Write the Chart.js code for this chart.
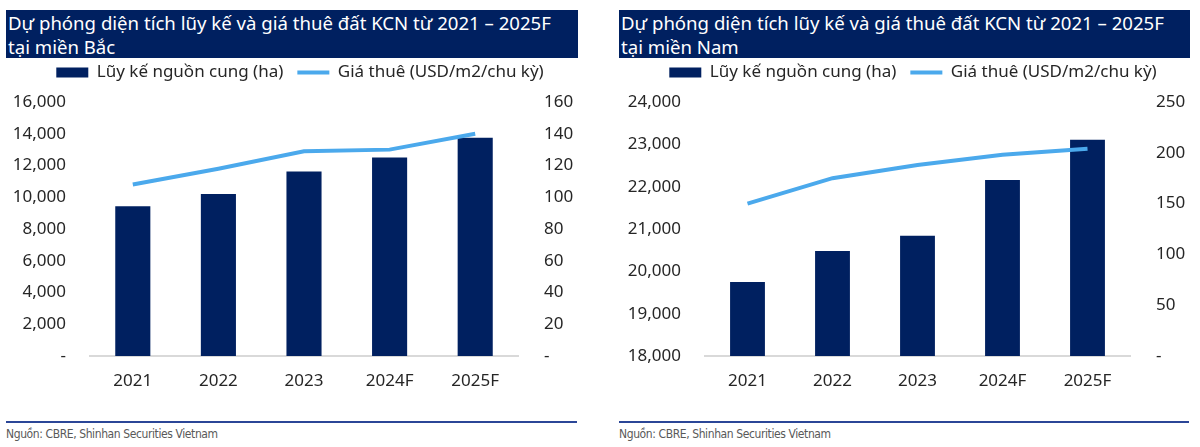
<!DOCTYPE html>
<html>
<head>
<meta charset="utf-8">
<script src="https://cdn.jsdelivr.net/npm/chart.js@4.4.0/dist/chart.umd.min.js"></script>
<style>
body{margin:0;width:1200px;height:447px;background:#fff;position:relative;overflow:hidden;font-family:"Noto Sans",sans-serif}
.panel{position:absolute;top:0;width:600px;height:447px}
.title{position:absolute;top:10px;height:48px;background:#002060;color:#fff;font-size:18.6px;line-height:23.5px;padding:1px 0 0 2px;box-sizing:border-box;white-space:nowrap}
.chartbox{position:absolute;top:50px;left:0}
.rule{position:absolute;top:421px;height:2px;background:#2b4697}
.src{position:absolute;top:427px;font-size:12px;letter-spacing:-0.4px;color:#595959;font-family:"Liberation Sans Narrow","DejaVu Sans Condensed",sans-serif;white-space:nowrap}
</style>
</head>
<body>
<div class="panel" style="left:0">
  <div class="title" style="left:6px;width:572px">Dự phóng diện tích lũy kế và giá thuê đất KCN từ 2021 – 2025F<br>tại miền Bắc</div>
  <div class="chartbox"><canvas id="north" width="600" height="360"></canvas></div>
  <div class="rule" style="left:6px;width:571px"></div>
  <div class="src" style="left:6px">Nguồn: CBRE, Shinhan Securities Vietnam</div>
</div>
<div class="panel" style="left:600px">
  <div class="title" style="left:19px;width:571px">Dự phóng diện tích lũy kế và giá thuê đất KCN từ 2021 – 2025F<br>tại miền Nam</div>
  <div class="chartbox"><canvas id="south" width="600" height="360"></canvas></div>
  <div class="rule" style="left:19px;width:570px"></div>
  <div class="src" style="left:19px">Nguồn: CBRE, Shinhan Securities Vietnam</div>
</div>
<script>
// --- data
const years = ['2021', '2022', '2023', '2024F', '2025F'];
const northSupply = [9430, 10200, 11620, 12500, 13750];
const northRent = [108, 118, 129, 130, 140];
const southSupply = [19750, 20480, 20840, 22160, 23110];
const southRent = [150, 175, 188, 198, 204];
const supplyLabel = 'Lũy kế nguồn cung (ha)';
const rentLabel = 'Giá thuê (USD/m2/chu kỳ)';

const navy = '#002060';
const sky = '#4ba9ec';
const tickColor = '#262626';
const tickFont = {family: '"Noto Sans", sans-serif', size: 17};
const legendFont = {family: '"Noto Sans", sans-serif', size: 17};

// gap under the legend
const legendGap = {
  id: 'legendGap',
  beforeInit(chart){
    const fit = chart.legend.fit;
    chart.legend.fit = function(){ fit.bind(chart.legend)(); this.height += 11; };
  }
};

function fmt(v){ return v === 0 ? '-' : v.toLocaleString('en-US'); }

function makeChart(id, supply, rent, yMin, yMax, yStep, rMax, rStep, padLeft, leftW, rightW){
  const ctx = document.getElementById(id).getContext('2d');
  return new Chart(ctx, {
    data: {
      labels: years,
      datasets: [
        {type: 'line', label: rentLabel, data: rent, yAxisID: 'y1', borderColor: sky, backgroundColor: sky,
         borderWidth: 4, pointRadius: 0, tension: 0, pointStyle: 'line', order: 0},
        {type: 'bar', label: supplyLabel, data: supply, yAxisID: 'y', backgroundColor: navy,
         barPercentage: 0.41, categoryPercentage: 1, pointStyle: 'rect', order: 1}
      ]
    },
    options: {
      responsive: false,
      animation: false,
      layout: {padding: {left: padLeft, right: 0, top: 0, bottom: 0}},
      plugins: {
        legend: {
          position: 'top',
          reverse: true,
          labels: {usePointStyle: true, pointStyleWidth: 32, boxHeight: 10, padding: 14,
                   color: tickColor, font: legendFont}
        },
        tooltip: {enabled: false}
      },
      scales: {
        x: {
          grid: {display: false, drawTicks: false},
          border: {display: true, color: '#d9d9d9', width: 2},
          ticks: {color: tickColor, font: tickFont, padding: 15},
          afterFit: s => { s.height = 54; }
        },
        y: {
          position: 'left', min: yMin, max: yMax,
          grid: {display: false, drawTicks: false}, border: {display: false},
          ticks: {stepSize: yStep, color: tickColor, font: tickFont, padding: 24, callback: fmt},
          afterFit: s => { s.width = leftW; }
        },
        y1: {
          position: 'right', min: 0, max: rMax,
          grid: {display: false, drawTicks: false}, border: {display: false},
          ticks: {stepSize: rStep, color: tickColor, font: tickFont, padding: 26, callback: fmt},
          afterFit: s => { s.width = rightW; }
        }
      }
    },
    plugins: [legendGap]
  });
}

makeChart('north', northSupply, northRent, 0, 16000, 2000, 160, 20, 0, 90, 82);
makeChart('south', southSupply, southRent, 18000, 24000, 1000, 250, 50, 26, 79, 70);
</script>
</body>
</html>
